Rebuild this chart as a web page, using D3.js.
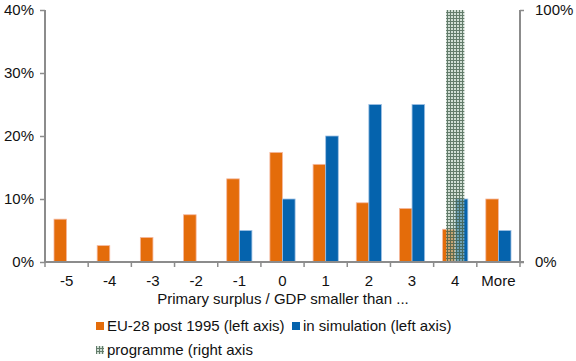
<!DOCTYPE html>
<html><head><meta charset="utf-8">
<script src="https://cdn.jsdelivr.net/npm/d3@7"></script>
<style>body{margin:0;background:#fff}svg{font-family:"Liberation Sans",Arial,sans-serif}</style>
</head><body><svg id="c" width="576" height="361"></svg>
<script>
const categories = ["-5","-4","-3","-2","-1","0","1","2","3","4","More"];
const eu28 = [6.8,2.6,3.9,7.5,13.2,17.4,15.5,9.4,8.5,5.2,10.0];
const simulation = [0,0,0,0,5,10,20,25,25,10,5];
const programme = [0,0,0,0,0,0,0,0,0,100,0];
const leftTicks = [0,10,20,30,40];
const rightTicks = [0,100];

const svg = d3.select("#c");
const L=45, R=520, T=10, B=262;
const FS = 15;
const x = d3.scaleBand().domain(categories).range([L,R]).paddingInner(0).paddingOuter(0);
const yL = d3.scaleLinear().domain([0,40]).range([B,T]);
const yR = d3.scaleLinear().domain([0,100]).range([B,T]);
const bw = 12.6, pw = 18.3;

const defs = svg.append("defs");
const pat = defs.append("pattern").attr("id","hatch").attr("patternUnits","userSpaceOnUse")
  .attr("width",3).attr("height",3);
pat.append("rect").attr("width",3).attr("height",3).attr("fill","#b3c9b9").attr("fill-opacity",0.6);
pat.append("rect").attr("x",0).attr("y",0).attr("width",1).attr("height",3).attr("fill","#35533f").attr("fill-opacity",0.7);
pat.append("rect").attr("x",1).attr("y",0).attr("width",2).attr("height",1).attr("fill","#35533f").attr("fill-opacity",0.7);

const g = svg.append("g");
g.selectAll(".eu").data(categories).join("rect")
  .attr("x",d=>x(d)+x.bandwidth()/2-bw).attr("width",bw)
  .attr("y",(d,i)=>yL(eu28[i])).attr("height",(d,i)=>B-yL(eu28[i]))
  .attr("fill","#e46c0a").attr("stroke","#f5b9a0").attr("stroke-width",0.8);
g.selectAll(".sim").data(categories.filter((d,i)=>simulation[i]>0)).join("rect")
  .attr("x",d=>x(d)+x.bandwidth()/2).attr("width",bw)
  .attr("y",d=>yL(simulation[categories.indexOf(d)])).attr("height",d=>B-yL(simulation[categories.indexOf(d)]))
  .attr("fill","#0563ad").attr("stroke","#9ec0e4").attr("stroke-width",0.8);
g.selectAll(".prog").data(categories.filter((d,i)=>programme[i]>0)).join("rect")
  .attr("x",d=>x(d)+x.bandwidth()/2-pw/2).attr("width",pw)
  .attr("y",d=>yR(programme[categories.indexOf(d)])).attr("height",d=>B-yR(programme[categories.indexOf(d)]))
  .attr("fill","url(#hatch)");

const axisColor="#8c8c8c";
const la = svg.append("g").attr("transform",`translate(${L},0)`)
  .call(d3.axisLeft(yL).tickValues(leftTicks).tickFormat(d=>d+"%").tickSize(4).tickPadding(7));
const ra = svg.append("g").attr("transform",`translate(${R},0)`)
  .call(d3.axisRight(yR).tickValues(rightTicks).tickFormat(d=>d+"%").tickSize(4).tickPadding(11));
const ba = svg.append("g").attr("transform",`translate(0,${B})`)
  .call(d3.axisBottom(x).tickSize(0).tickPadding(13));
ba.selectAll(".sep").data(d3.range(categories.length+1)).join("line")
  .attr("x1",i=>L+i*x.bandwidth()).attr("x2",i=>L+i*x.bandwidth()).attr("y1",0).attr("y2",5)
  .attr("stroke",axisColor).attr("stroke-width",1.5);
[la,ra,ba].forEach(a=>{
  a.selectAll(".domain").attr("stroke",axisColor).attr("stroke-width",2);
  a.selectAll(".tick line").attr("stroke",axisColor).attr("stroke-width",1.5);
  a.selectAll("text").attr("font-size",FS).attr("fill","#111").attr("font-family","Liberation Sans, Arial, sans-serif");
});
la.select(".domain").attr("d",`M0,${B}V${T}`);
la.selectAll(".tick line").attr("x2",-5);
ra.select(".domain").attr("d",`M0,${B}V${T}`);
ba.select(".domain").attr("d",`M${L},0H${R+4}`);
ba.selectAll(".tick text").attr("dy","0.71em");

svg.append("text").attr("x",283).attr("y",304).attr("text-anchor","middle")
  .attr("font-size",FS).attr("fill","#111").text("Primary surplus / GDP smaller than ...");

const legend = [
  {label:"EU-28 post 1995 (left axis)", fill:"#e46c0a", x:96, y:326},
  {label:"in simulation (left axis)", fill:"#0563ad", x:292, y:326},
  {label:"programme (right axis", fill:"url(#hatch)", x:96, y:350}
];
const lg = svg.append("g");
legend.forEach(l=>{
  lg.append("rect").attr("x",l.x).attr("y",l.y-4).attr("width",8).attr("height",8).attr("fill",l.fill);
  lg.append("text").attr("x",l.x+11).attr("y",l.y+5).attr("font-size",FS).attr("fill","#111").text(l.label);
});
</script></body></html>
